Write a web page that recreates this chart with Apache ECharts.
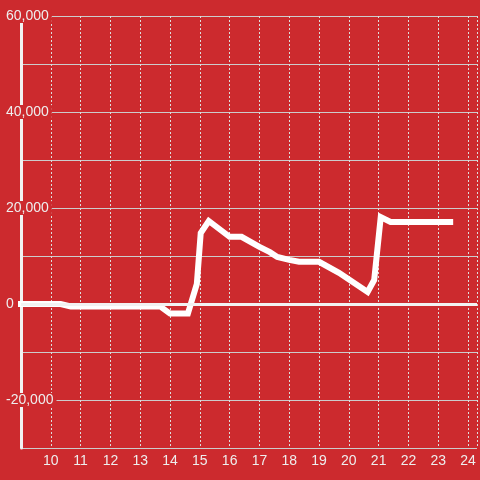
<!DOCTYPE html>
<html>
<head>
<meta charset="utf-8">
<script src="https://cdn.jsdelivr.net/npm/echarts@6/dist/echarts.min.js"></script>
<style>
html,body{margin:0;padding:0;background:#cc2a2e;}
#chart{width:480px;height:480px;}
</style>
</head>
<body>
<div id="chart"></div>
<script>
var xValues = [9.0, 10.33, 10.67, 13.67, 14.0, 14.6, 14.9, 15.03, 15.3, 16.0, 16.4, 17.0, 17.35, 17.6, 18.0, 18.33, 19.0, 19.67, 20.63, 20.85, 21.07, 21.4, 23.4];
var yValues = [0, 0, -500, -500, -2000, -2000, 4200, 14800, 17300, 14000, 14000, 11900, 10800, 9800, 9200, 8800, 8800, 6500, 2500, 5000, 18100, 17100, 17100];
var xTicks = [10, 11, 12, 13, 14, 15, 16, 17, 18, 19, 20, 21, 22, 23, 24];
var yTickLabels = [-20000, 0, 20000, 40000, 60000];

var bg = '#cc2a2e';
var data = xValues.map(function (x, i) { return [x, yValues[i]]; });

var chart = echarts.init(document.getElementById('chart'));
chart.setOption({
  backgroundColor: bg,
  animation: false,
  grid: { left: 21, right: 0, top: 16, bottom: 32, containLabel: false },
  xAxis: {
    type: 'value',
    min: 9,
    max: 24.3,
    interval: 1,
    axisLine: { show: true, lineStyle: { color: '#cccccc', width: 1 } },
    axisTick: { show: false },
    axisLabel: {
      color: '#eeeeee',
      fontSize: 14,
      fontFamily: 'Liberation Sans, Arial, sans-serif',
      margin: 6,
      formatter: function (v) {
        return xTicks.indexOf(v) >= 0 ? String(v) : '';
      }
    },
    splitLine: { show: true, lineStyle: { color: '#dddddd', width: 1, type: [2, 2] } }
  },
  yAxis: {
    type: 'value',
    min: -30000,
    max: 60000,
    interval: 10000,
    axisLine: { show: true, onZero: false, lineStyle: { color: '#f2f2f2', width: 3 } },
    axisTick: { show: false },
    axisLabel: {
      color: '#eeeeee',
      fontSize: 14,
      fontFamily: 'Liberation Sans, Arial, sans-serif',
      align: 'left',
      margin: 15,
      backgroundColor: bg,
      padding: [0, 3, 0, 0],
      formatter: function (v) {
        if (yTickLabels.indexOf(v) < 0) return '';
        return v.toLocaleString('en-US');
      }
    },
    splitLine: { show: true, lineStyle: { color: '#cccccc', width: 1 } }
  },
  series: [{
    type: 'line',
    data: data,
    showSymbol: false,
    symbol: 'none',
    lineStyle: { color: '#ffffff', width: 6, cap: 'square', join: 'miter' },
    markLine: {
      silent: true,
      symbol: 'none',
      label: { show: false },
      lineStyle: { color: '#f2f2f2', width: 3, type: 'solid' },
      data: [{ yAxis: 0 }]
    }
  }]
});
</script>
</body>
</html>
